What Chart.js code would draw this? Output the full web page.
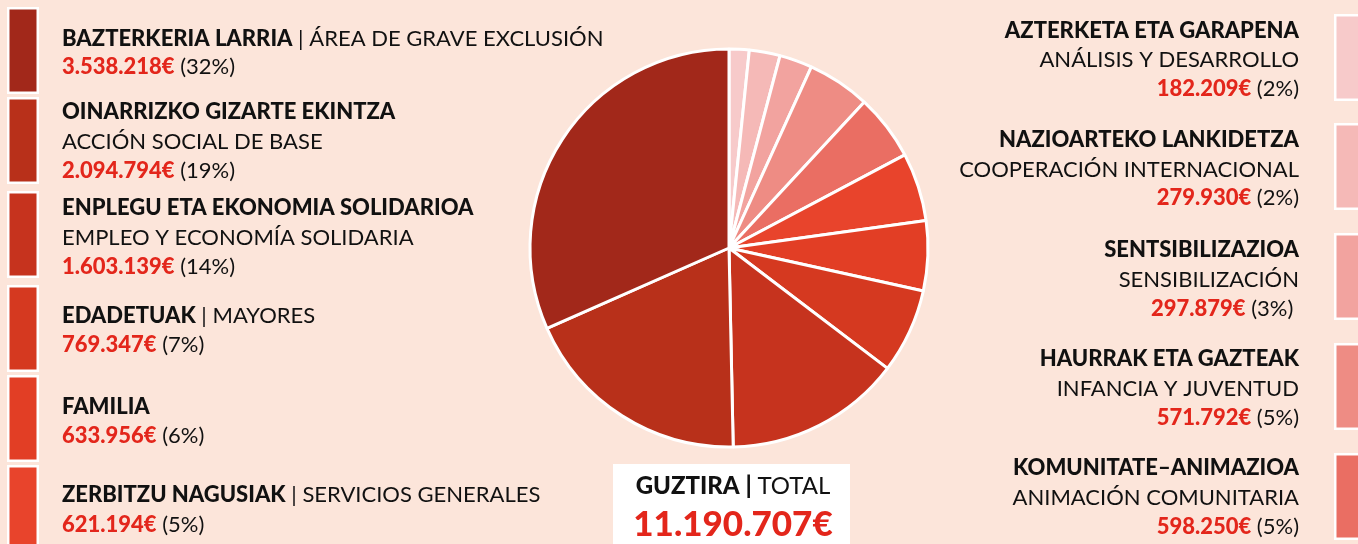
<!DOCTYPE html>
<html>
<head>
<meta charset="utf-8">
<script src="https://cdn.jsdelivr.net/npm/chart.js@4.4.1/dist/chart.umd.min.js"></script>
<style>
  html, body { margin: 0; padding: 0; background: #fce5da; }
  #grafico { display: block; }
</style>
</head>
<body>
<canvas id="grafico" width="1358" height="544"></canvas>
<script>
// datos en el orden del gráfico (sentido horario desde arriba)
var etiquetasEu = [
    'AZTERKETA ETA GARAPENA',
    'NAZIOARTEKO LANKIDETZA',
    'SENTSIBILIZAZIOA',
    'HAURRAK ETA GAZTEAK',
    'KOMUNITATE–ANIMAZIOA',
    'ZERBITZU NAGUSIAK',
    'FAMILIA',
    'EDADETUAK',
    'ENPLEGU ETA EKONOMIA SOLIDARIOA',
    'OINARRIZKO GIZARTE EKINTZA',
    'BAZTERKERIA LARRIA'
];
var etiquetasEs = [
    'ANÁLISIS Y DESARROLLO',
    'COOPERACIÓN INTERNACIONAL',
    'SENSIBILIZACIÓN',
    'INFANCIA Y JUVENTUD',
    'ANIMACIÓN COMUNITARIA',
    'SERVICIOS GENERALES',
    '',
    'MAYORES',
    'EMPLEO Y ECONOMÍA SOLIDARIA',
    'ACCIÓN SOCIAL DE BASE',
    'ÁREA DE GRAVE EXCLUSIÓN'
];
var importes = [182209, 279930, 297879, 571792, 598250, 621194, 633956, 769347, 1603139, 2094794, 3538218];
var porcentajes = ['2%', '2%', '3%', '5%', '5%', '5%', '6%', '7%', '14%', '19%', '32%'];
var total = 11190707;

var colores = [
    '#f7caca', '#f5b9b7', '#f2a39f', '#ee8c84', '#ea6e63',
    '#e8442c', '#e23e25', '#d53920', '#c6331e', '#b8301a', '#a2281a'
];

var fuente = 'Lato, "Open Sans", sans-serif';
var rojo = '#e3261b';
var negro = '#111111';

function euros(n) {
    return String(n).replace(/\B(?=(\d{3})+(?!\d))/g, '.') + '€';
}

// dibuja varios trozos de texto seguidos con estilos distintos
function escribir(ctx, trozos, x, y, alinear) {
    var ancho = 0;
    trozos.forEach(function (t) {
        ctx.font = t.font;
        ancho += ctx.measureText(t.texto).width;
    });
    var pos = x;
    if (alinear === 'right') pos = x - ancho;
    if (alinear === 'center') pos = x - ancho / 2;
    ctx.textAlign = 'left';
    ctx.textBaseline = 'alphabetic';
    trozos.forEach(function (t) {
        ctx.font = t.font;
        ctx.fillStyle = t.color;
        ctx.fillText(t.texto, pos, y);
        pos += ctx.measureText(t.texto).width;
    });
}

function caja(ctx, x, y, w, h, color) {
    ctx.fillStyle = '#ffffff';
    ctx.fillRect(x, y, w, h);
    ctx.fillStyle = color;
    ctx.fillRect(x + 2.5, y + 2.5, w - 5, h - 5);
}

var leyenda = {
    id: 'leyenda',
    afterDraw: function (chart) {
        var ctx = chart.ctx;
        var negrita = '900 22px ' + fuente;
        var normal = '22px ' + fuente;

        // izquierda: de la mayor a la menor
        var izq = [
            { i: 10, caja: 7,   lineas: [46, 74] },
            { i: 9,  caja: 97,  lineas: [119, 149, 178] },
            { i: 8,  caja: 191, lineas: [215, 245, 274] },
            { i: 7,  caja: 285, lineas: [323, 352] },
            { i: 6,  caja: 375, lineas: [414, 443] },
            { i: 5,  caja: 465, lineas: [502, 532] }
        ];
        izq.forEach(function (f) {
            var i = f.i;
            caja(ctx, 7, f.caja, 32, 87, colores[i]);
            var cifra = [
                { texto: euros(importes[i]), font: negrita, color: rojo },
                { texto: ' (' + porcentajes[i] + ')', font: normal, color: negro }
            ];
            if (f.lineas.length === 3) {
                escribir(ctx, [{ texto: etiquetasEu[i], font: negrita, color: negro }], 62, f.lineas[0]);
                escribir(ctx, [{ texto: etiquetasEs[i], font: normal, color: negro }], 62, f.lineas[1]);
                escribir(ctx, cifra, 62, f.lineas[2]);
            } else {
                var titulo = [{ texto: etiquetasEu[i], font: negrita, color: negro }];
                if (etiquetasEs[i]) titulo.push({ texto: ' | ' + etiquetasEs[i], font: normal, color: negro });
                escribir(ctx, titulo, 62, f.lineas[0]);
                escribir(ctx, cifra, 62, f.lineas[1]);
            }
        });

        // derecha: de la menor a la mayor
        var der = [
            { i: 0, caja: 14,  lineas: [38, 67, 96] },
            { i: 1, caja: 123, lineas: [147, 177, 205] },
            { i: 2, caja: 233, lineas: [257, 287, 316] },
            { i: 3, caja: 343, lineas: [366, 396, 425] },
            { i: 4, caja: 453, lineas: [475, 505, 534] }
        ];
        der.forEach(function (f) {
            var i = f.i;
            caja(ctx, 1334, f.caja, 40, 87, colores[i]);
            escribir(ctx, [{ texto: etiquetasEu[i], font: negrita, color: negro }], 1299, f.lineas[0], 'right');
            escribir(ctx, [{ texto: etiquetasEs[i], font: normal, color: negro }], 1299, f.lineas[1], 'right');
            escribir(ctx, [
                { texto: euros(importes[i]), font: negrita, color: rojo },
                { texto: ' (' + porcentajes[i] + ')' + (i === 2 ? ' ' : ''), font: normal, color: negro }
            ], 1299, f.lineas[2], 'right');
        });

        // total
        ctx.fillStyle = '#ffffff';
        ctx.fillRect(613, 464, 237, 90);
        escribir(ctx, [
            { texto: 'GUZTIRA | ', font: '900 24px ' + fuente, color: negro },
            { texto: 'TOTAL', font: '24px ' + fuente, color: negro }
        ], 733, 494, 'center');
        escribir(ctx, [{ texto: euros(total), font: '900 35px ' + fuente, color: rojo }], 733, 536, 'center');
    }
};

new Chart(document.getElementById('grafico').getContext('2d'), {
    type: 'pie',
    data: {
        labels: etiquetasEu,
        datasets: [{
            data: importes,
            backgroundColor: colores,
            borderColor: '#ffffff',
            borderWidth: 3,
            radius: 199,
            hoverOffset: 0
        }]
    },
    options: {
        responsive: false,
        animation: false,
        layout: { padding: { left: 100, right: 0, top: 0, bottom: 48 } },
        plugins: {
            legend: { display: false },
            tooltip: { enabled: false }
        }
    },
    plugins: [leyenda]
});
</script>
</body>
</html>
